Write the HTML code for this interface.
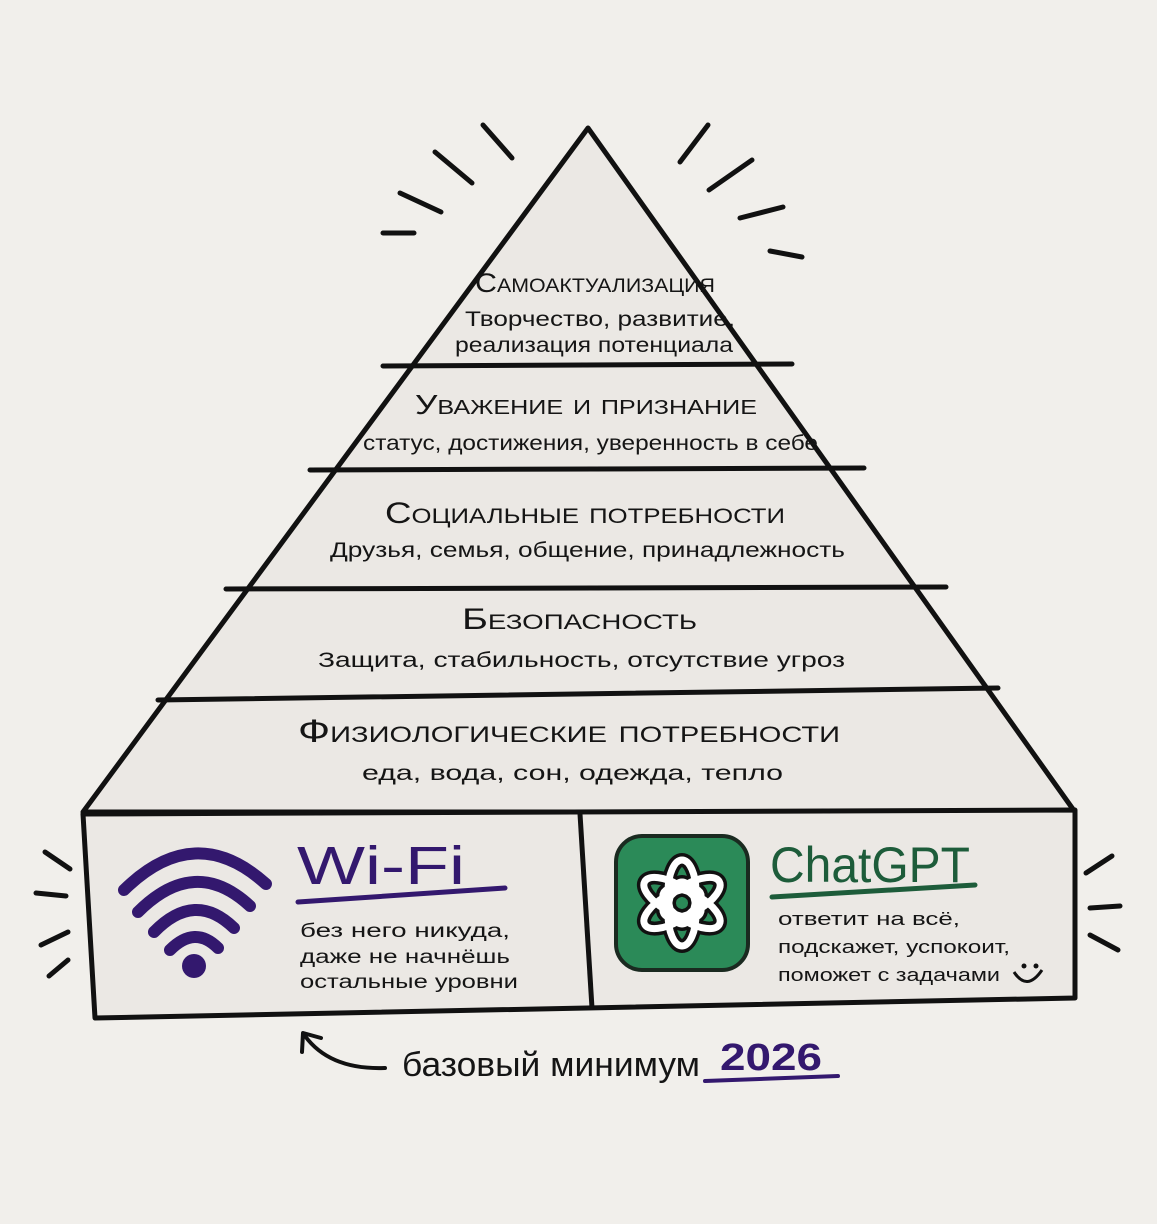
<!DOCTYPE html>
<html><head><meta charset="utf-8"><style>
body{margin:0;background:#f1efeb;}
svg{display:block}
text{font-family:"Liberation Sans","DejaVu Sans",sans-serif;}
</style></head><body>
<svg width="1157" height="1224" viewBox="0 0 1157 1224" xmlns="http://www.w3.org/2000/svg">
<rect width="1157" height="1224" fill="#f1efeb"/>
<polygon points="588,128 83,812 1075,812" fill="#ebe8e4" stroke="#111" stroke-width="5" stroke-linejoin="round"/>
<g stroke="#111" stroke-width="5" stroke-linecap="round" fill="none">
<line x1="383" y1="366" x2="792" y2="364"/>
<line x1="310" y1="470" x2="864" y2="468"/>
<line x1="226" y1="589" x2="946" y2="587"/>
<line x1="158" y1="700" x2="998" y2="688"/>
<line x1="483" y1="125" x2="512" y2="158"/>
<line x1="435" y1="152" x2="472" y2="183"/>
<line x1="400" y1="193" x2="441" y2="212"/>
<line x1="383" y1="233" x2="414" y2="233"/>
<line x1="708" y1="125" x2="680" y2="162"/>
<line x1="752" y1="160" x2="709" y2="190"/>
<line x1="783" y1="207" x2="740" y2="218"/>
<line x1="770" y1="251" x2="802" y2="257"/>
<line x1="45" y1="852" x2="70" y2="869"/>
<line x1="36" y1="893" x2="66" y2="896"/>
<line x1="41" y1="945" x2="68" y2="932"/>
<line x1="49" y1="976" x2="68" y2="960"/>
<line x1="1112" y1="856" x2="1086" y2="873"/>
<line x1="1090" y1="908" x2="1120" y2="906"/>
<line x1="1090" y1="935" x2="1118" y2="950"/>
</g>
<polygon points="83,814 1075,810 1075,998 95,1018" fill="#ebe8e4" stroke="#111" stroke-width="5" stroke-linejoin="round"/>
<line x1="580" y1="814" x2="592" y2="1008" stroke="#111" stroke-width="5"/>
<g fill="#151515" lengthAdjust="spacingAndGlyphs">
<text x="475" y="292" font-size="27" font-variant="small-caps" textLength="240" lengthAdjust="spacingAndGlyphs">Самоактуализация</text>
<text x="465" y="326" font-size="21" textLength="270" lengthAdjust="spacingAndGlyphs">Творчество, развитие,</text>
<text x="455" y="352" font-size="21" textLength="278" lengthAdjust="spacingAndGlyphs">реализация потенциала</text>
<text x="415" y="414" font-size="28" font-variant="small-caps" textLength="342" lengthAdjust="spacingAndGlyphs">Уважение и признание</text>
<text x="363" y="450" font-size="21" textLength="455" lengthAdjust="spacingAndGlyphs">статус, достижения, уверенность в себе</text>
<text x="385" y="523" font-size="30" font-variant="small-caps" textLength="400" lengthAdjust="spacingAndGlyphs">Социальные потребности</text>
<text x="330" y="557" font-size="21" textLength="515" lengthAdjust="spacingAndGlyphs">Друзья, семья, общение, принадлежность</text>
<text x="462" y="629" font-size="30" font-variant="small-caps" textLength="235" lengthAdjust="spacingAndGlyphs">Безопасность</text>
<text x="318" y="667" font-size="21" textLength="527" lengthAdjust="spacingAndGlyphs">Защита, стабильность, отсутствие угроз</text>
<text x="298" y="742" font-size="32" font-variant="small-caps" textLength="542" lengthAdjust="spacingAndGlyphs">Физиологические потребности</text>
<text x="362" y="780" font-size="21" textLength="421" lengthAdjust="spacingAndGlyphs">еда, вода, сон, одежда, тепло</text>
</g>
<g stroke="#33186e" stroke-width="12" fill="none" stroke-linecap="round">
<path d="M124,890 Q195,820 266,884"/>
<path d="M138,912 Q195,855 250,906"/>
<path d="M154,932 Q195,890 234,928"/>
<path d="M170,950 Q195,925 218,948"/>
</g>
<circle cx="194" cy="966" r="12" fill="#33186e"/>
<text x="297" y="884" font-size="54" fill="#33186e" textLength="168" lengthAdjust="spacingAndGlyphs">Wi-Fi</text>
<line x1="298" y1="902" x2="505" y2="888" stroke="#33186e" stroke-width="5" stroke-linecap="round"/>
<g fill="#151515" font-size="19">
<text x="300" y="937" textLength="210" lengthAdjust="spacingAndGlyphs">без него никуда,</text>
<text x="300" y="963" textLength="210" lengthAdjust="spacingAndGlyphs">даже не начнёшь</text>
<text x="300" y="988" textLength="218" lengthAdjust="spacingAndGlyphs">остальные уровни</text>
</g>
<rect x="616" y="836" width="132" height="134" rx="26" fill="#2b8a58" stroke="#1a2a20" stroke-width="4"/>
<g fill="none" stroke="#111" stroke-width="14">
<ellipse cx="682" cy="892" rx="14" ry="32"/>
<ellipse cx="682" cy="903" rx="14" ry="32" transform="rotate(60 682 903) translate(0 -11)"/>
<ellipse cx="682" cy="903" rx="14" ry="32" transform="rotate(120 682 903) translate(0 -11)"/>
<ellipse cx="682" cy="903" rx="14" ry="32" transform="rotate(180 682 903) translate(0 -11)"/>
<ellipse cx="682" cy="903" rx="14" ry="32" transform="rotate(240 682 903) translate(0 -11)"/>
<ellipse cx="682" cy="903" rx="14" ry="32" transform="rotate(300 682 903) translate(0 -11)"/>
</g>
<g fill="none" stroke="#fff" stroke-width="7">
<ellipse cx="682" cy="892" rx="14" ry="32"/>
<ellipse cx="682" cy="903" rx="14" ry="32" transform="rotate(60 682 903) translate(0 -11)"/>
<ellipse cx="682" cy="903" rx="14" ry="32" transform="rotate(120 682 903) translate(0 -11)"/>
<ellipse cx="682" cy="903" rx="14" ry="32" transform="rotate(180 682 903) translate(0 -11)"/>
<ellipse cx="682" cy="903" rx="14" ry="32" transform="rotate(240 682 903) translate(0 -11)"/>
<ellipse cx="682" cy="903" rx="14" ry="32" transform="rotate(300 682 903) translate(0 -11)"/>
</g>
<text x="770" y="882" font-size="50" fill="#1d5c3a" textLength="200" lengthAdjust="spacingAndGlyphs">ChatGPT</text>
<line x1="772" y1="897" x2="975" y2="885" stroke="#1d5c3a" stroke-width="5" stroke-linecap="round"/>
<g fill="#151515" font-size="18">
<text x="778" y="925" textLength="182" lengthAdjust="spacingAndGlyphs">ответит на всё,</text>
<text x="778" y="953" textLength="232" lengthAdjust="spacingAndGlyphs">подскажет, успокоит,</text>
<text x="778" y="981" textLength="222" lengthAdjust="spacingAndGlyphs">поможет с задачами</text>
</g>
<circle cx="1024" cy="966" r="2.5" fill="#111"/><circle cx="1036" cy="966" r="2.5" fill="#111"/>
<path d="M1014,972 Q1027,992 1042,970" fill="none" stroke="#111" stroke-width="3"/>
<path d="M385,1068 Q330,1070 305,1036" fill="none" stroke="#111" stroke-width="4" stroke-linecap="round"/>
<path d="M302,1052 L303,1033 L321,1038" fill="none" stroke="#111" stroke-width="4" stroke-linecap="round" stroke-linejoin="round"/>
<text x="402" y="1076" font-size="34" fill="#151515" textLength="298" lengthAdjust="spacingAndGlyphs">базовый минимум</text>
<text x="720" y="1070" font-size="38" fill="#33186e" font-weight="bold" textLength="102" lengthAdjust="spacingAndGlyphs">2026</text>
<line x1="705" y1="1081" x2="838" y2="1076" stroke="#33186e" stroke-width="4" stroke-linecap="round"/>
</svg>
</body></html>
